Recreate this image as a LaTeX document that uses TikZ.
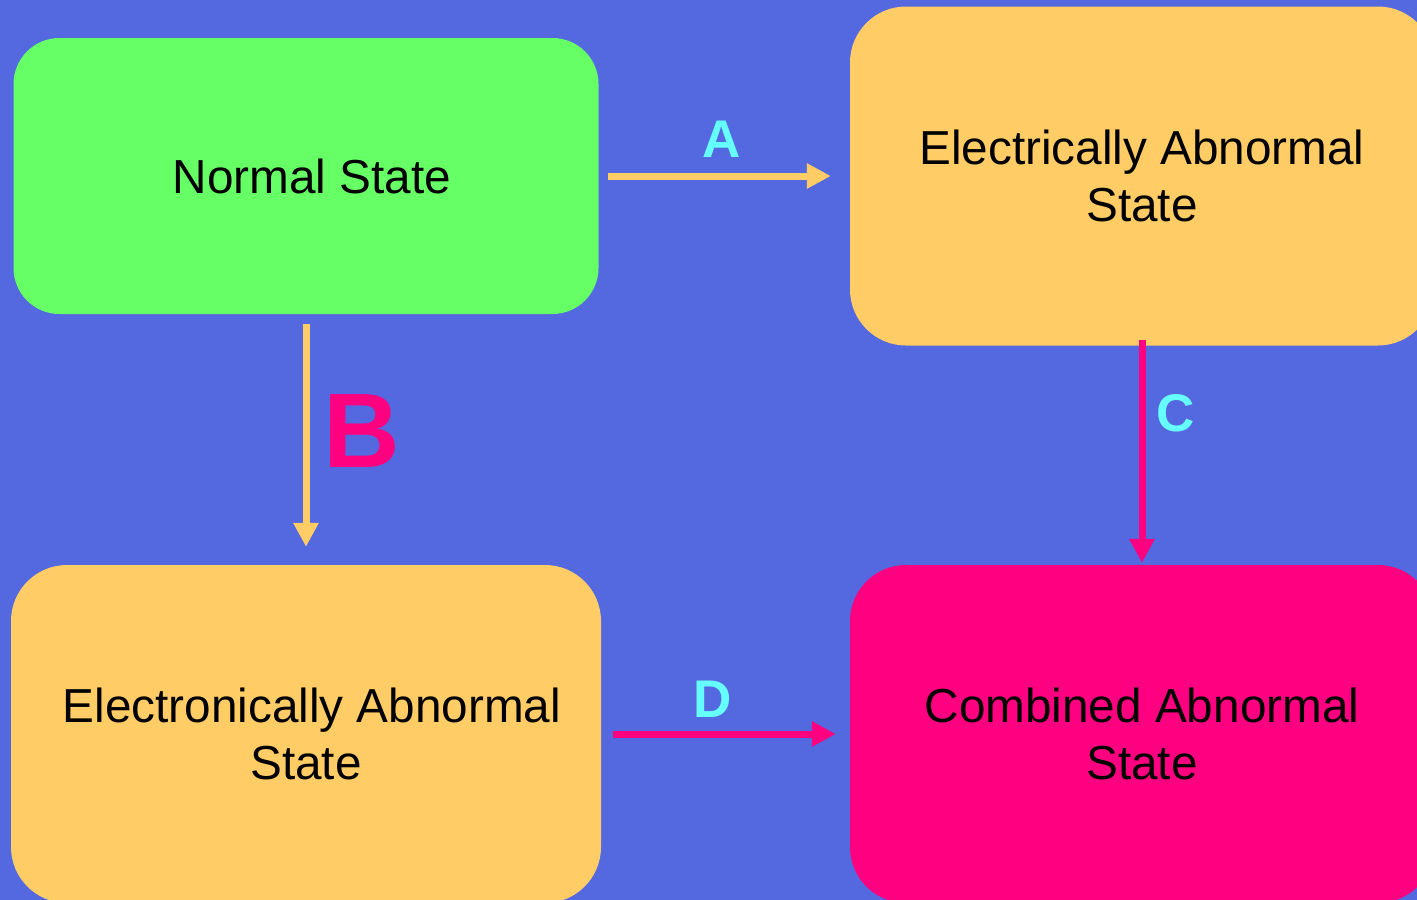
\documentclass[tikz,border=0pt]{standalone}
\usepackage{fontspec}
\setmainfont{Liberation Sans}
\usetikzlibrary{arrows.meta}
\definecolor{bgblue}{RGB}{84,104,224}
\definecolor{boxgreen}{RGB}{102,255,102}
\definecolor{boxorange}{RGB}{255,204,102}
\definecolor{boxpink}{RGB}{255,0,128}
\definecolor{labcyan}{RGB}{102,255,255}
\tikzset{
  statebox/.style={rectangle, inner sep=0pt},
  statetext/.style={inner sep=0pt, align=center, text=black,
    font=\fontsize{47.7}{57}\selectfont},
  lab/.style={inner sep=0pt, font=\fontsize{53}{60}\selectfont\bfseries},
  conn/.style={line width=7pt, -{Triangle[length=24pt,width=24pt]}}
}
\begin{document}
\begin{tikzpicture}[x=1pt,y=-1pt]
\useasboundingbox (0,0) rectangle (1417,900);
\clip (0,0) rectangle (1417,900);
\fill[bgblue] (0,0) rectangle (1417,900);

\node[statebox, fill=boxgreen, rounded corners=46pt, minimum width=585pt, minimum height=276pt]
  (normal) at (306,176) {};
\node[statebox, fill=boxorange, rounded corners=56pt, minimum width=584pt, minimum height=339pt]
  (ea) at (1142,176) {};
\node[statebox, fill=boxorange, rounded corners=56pt, minimum width=590pt, minimum height=338pt]
  (el) at (306,734) {};
\node[statebox, fill=boxpink, rounded corners=56pt, minimum width=584pt, minimum height=338pt]
  (comb) at (1142,734) {};

\node[statetext] (normalt) at (normal.center) {\hspace*{12pt}Normal State};
\node[statetext] (eat) at (ea.center) {Electrically Abnormal\\State};
\node[statetext] (elt) at (el.center) {\hspace*{12pt}Electronically Abnormal\\State};
\node[statetext] (combt) at (comb.center) {Combined Abnormal\\State};

\draw[conn, boxorange, shorten <=9pt, shorten >=19pt] (normal.east) -- (ea.west);
\draw[conn, boxorange, shorten <=10pt, shorten >=18pt] (normal.south) -- (el.north);
\draw[conn, boxpink, shorten <=-6pt, shorten >=2pt] (ea.south) -- (comb.north);
\draw[conn, boxpink, shorten <=12pt, shorten >=14pt] (el.east) -- (comb.west);

\node[lab, text=labcyan] (la) at (722,139) {A};
\node[lab, text=boxpink, font=\fontsize{106}{110}\selectfont\bfseries] (lb) at (362,431) {B};
\node[lab, text=labcyan] (lc) at (1176,413) {C};
\node[lab, text=labcyan] (ld) at (713,699) {D};
\end{tikzpicture}
\end{document}
